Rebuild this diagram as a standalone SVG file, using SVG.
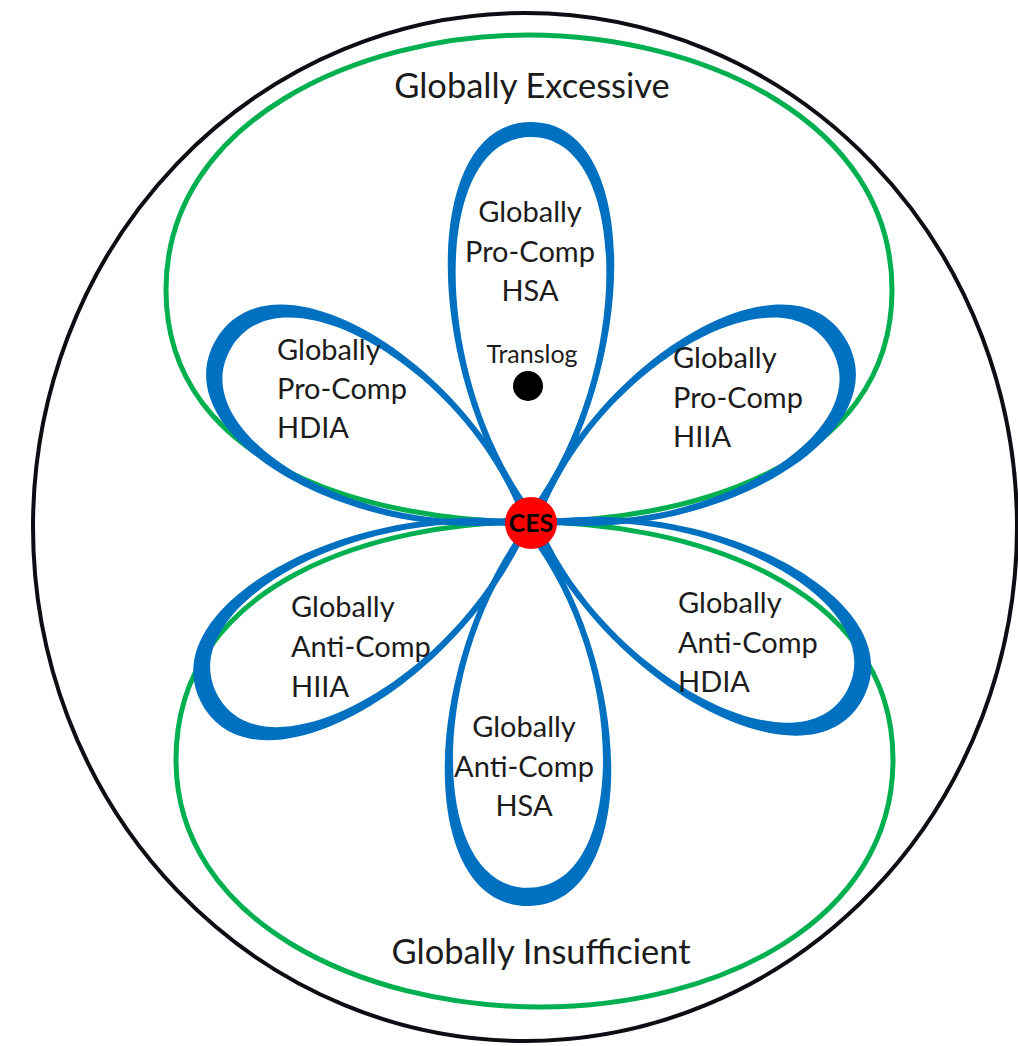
<svg xmlns="http://www.w3.org/2000/svg" xmlns:xlink="http://www.w3.org/1999/xlink" width="1018" height="1046" viewBox="0 0 1018 1046">
<style>
.lbl{font-family:Lato,"Open Sans","Liberation Sans",sans-serif;font-size:29px;fill:#1c1c1c}
.ttl{font-family:Lato,"Open Sans","Liberation Sans",sans-serif;font-size:34.5px;fill:#1c1c1c;text-anchor:middle}
.mid{text-anchor:middle}
.petal{fill:#0070C0;fill-rule:evenodd}
.lobe{fill:none;stroke:#00B050;stroke-width:5}
</style>
<defs>
<path id="petal" d="M0,0 C-110,-150 -112,-400 0,-400 C112,-400 110,-150 0,0 Z M0,-13 C-101,-150 -100,-385 0,-385 C100,-385 101,-150 0,-13 Z"/>
<path id="petal2" d="M0,0 C-110,-150 -112,-400 0,-400 C112,-400 110,-150 0,0 Z M0,-13 C-101,-150 -99,-381 0,-381 C99,-381 101,-150 0,-13 Z"/>
</defs>
<rect width="1018" height="1046" fill="#fff"/>
<g id="outer">
<ellipse cx="525" cy="527" rx="492" ry="514" fill="none" stroke="#0d0d14" stroke-width="4"/>
</g>
<g id="lobes">
<g id="excessive">
<path class="lobe" d="M531,522 C380,522 166,470 166,290 C166,120 360,35 528,35 C700,35 892,120 892,290 C892,470 680,522 531,522 Z"/>
<text class="ttl" x="532" y="98">Globally Excessive</text>
</g>
<g id="insufficient">
<path class="lobe" d="M531,522 C380,522 176,580 176,760 C176,920 360,1007 540,1007 C720,1007 893,920 893,760 C893,580 680,522 531,522 Z"/>
<text class="ttl" x="541" y="964">Globally Insufficient</text>
</g>
</g>
<g id="petals">
<g id="hsa-pro">
<use xlink:href="#petal" class="petal" transform="translate(531,522)"/>
<text class="lbl mid" x="530" y="222">Globally</text>
<text class="lbl mid" x="530" y="262">Pro-Comp</text>
<text class="lbl mid" x="530" y="301">HSA</text>
</g>
<g id="hdia-pro">
<use xlink:href="#petal2" class="petal" transform="translate(531,522) rotate(-60) scale(1,0.91)"/>
<text class="lbl" x="277" y="360">Globally</text>
<text class="lbl" x="277" y="399">Pro-Comp</text>
<text class="lbl" x="277" y="438">HDIA</text>
</g>
<g id="hiia-pro">
<use xlink:href="#petal2" class="petal" transform="translate(531,522) rotate(60) scale(1,0.91)"/>
<text class="lbl" x="673" y="368">Globally</text>
<text class="lbl" x="673" y="408">Pro-Comp</text>
<text class="lbl" x="673" y="447">HIIA</text>
</g>
<g id="hiia-anti">
<use xlink:href="#petal2" class="petal" transform="translate(531,522) rotate(-119) scale(1,0.94)"/>
<text class="lbl" x="291" y="617">Globally</text>
<text class="lbl" x="291" y="657">Anti-Comp</text>
<text class="lbl" x="291" y="697">HIIA</text>
</g>
<g id="hdia-anti">
<use xlink:href="#petal2" class="petal" transform="translate(531,522) rotate(118) scale(1,0.94)"/>
<text class="lbl" x="678" y="613">Globally</text>
<text class="lbl" x="678" y="653">Anti-Comp</text>
<text class="lbl" x="678" y="692">HDIA</text>
</g>
<g id="hsa-anti">
<use xlink:href="#petal2" class="petal" transform="translate(528,522) rotate(180) scale(1,0.96)"/>
<text class="lbl mid" x="524" y="737">Globally</text>
<text class="lbl mid" x="524" y="777">Anti-Comp</text>
<text class="lbl mid" x="524" y="816">HSA</text>
</g>
</g>
<g id="translog">
<text class="lbl mid" x="532" y="363" style="font-size:25px">Translog</text>
<circle cx="528" cy="386" r="15" fill="#000"/>
</g>
<g id="ces">
<circle cx="531" cy="523" r="26" fill="#FF0000"/>
<text x="531" y="532" text-anchor="middle" style="font-family:Lato,'Liberation Sans',sans-serif;font-weight:bold;font-size:25px;fill:#000">CES</text>
</g>
</svg>
